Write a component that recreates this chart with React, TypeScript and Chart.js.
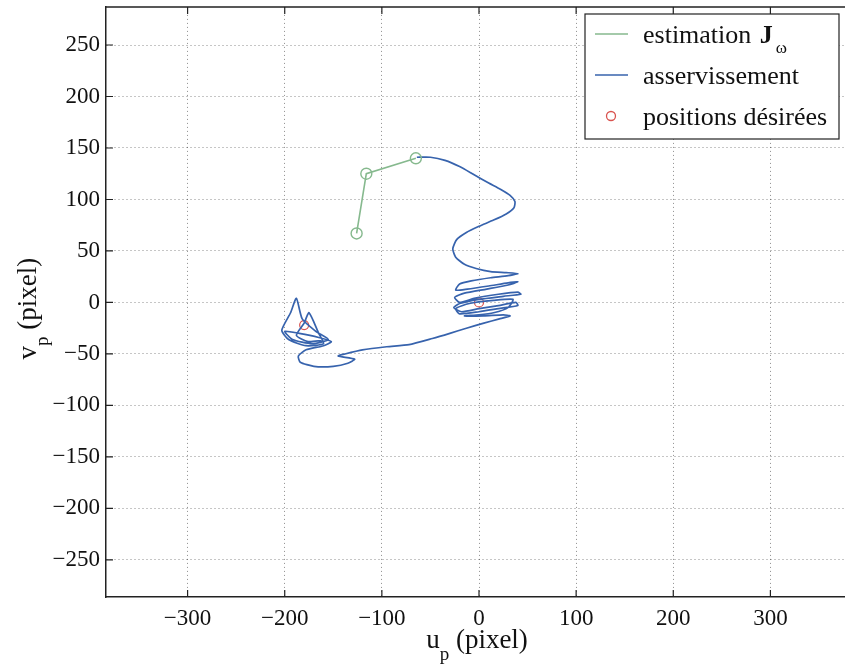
import React, { useEffect, useRef } from "react";
import { Chart, registerables } from "chart.js";

Chart.register(...registerables);

// ---- data ----
const xTicks = [-300, -200, -100, 0, 100, 200, 300];
const yTicks = [-250, -200, -150, -100, -50, 0, 50, 100, 150, 200, 250];
const xRange = [-384, 384];
const yRange = [-286, 287];

const seriesLabels = ["estimation ", "asservissement", "positions désirées"];
const xTitle = ["u", "p", " (pixel)"];
const yTitle = ["v", "p", " (pixel)"];

const estimationU = [-126, -116, -65];
const estimationV = [67, 125, 140];

const desiredU = [0, -180];
const desiredV = [0, -22];

const servoU = [
  -64, -50, -35, -20, -5, 10, 22, 32, 37, 36, 28, 15, 0, -13, -23, -27, -24, -15, -3, 12, 28, 40,
  30, 12, -8, -20,
  -24, -12, 10, 30, 40, 30, 8, -15, -25, -20, -5, 20, 40, 43, 25, 0, -20, -26, -18, 0, 20, 38, 40,
  20, 0, -20, -24, -10, 15, 35, 30, 15, 0, -15, 5, 25, 32,
  21, 5, -13, -30, -48, -72, -95, -120, -138, -145, -128, -135, -150, -170, -184, -186,
  -178, -160, -152, -165, -185, -200, -192, -172, -155, -168, -182, -188, -194, -203, -196, -178,
  -160, -165, -175, -180, -188, -176, -162,
];
const servoV = [
  141, 141, 138, 132, 124, 116, 110, 104, 98, 92, 86, 80, 74, 68, 61, 52, 44, 37, 33, 30, 29, 28,
  26, 24, 21, 18,
  12, 13, 16, 19, 20, 17, 13, 9, 5, 0, 4, 8, 10, 8, 6, 3, -1, -5, -9, -6, -3, 0, -3,
  -6, -9, -11, -6, -1, 2, 3, -5, -10, -12, -13, -13, -12, -13,
  -16, -20, -25, -30, -35, -41, -43, -46, -50, -52, -55, -59, -62, -62, -58, -52,
  -46, -42, -38, -34, -30, -28, -36, -40, -36, -28, -16, 4, -10, -27, -36, -42,
  -40, -30, -10, -20, -32, -38, -37,
];

const GREEN = "#86b98e";
const BLUE = "#3763ad";
const RED = "#d9534f";
const FONT = '"Liberation Serif", "Times New Roman", serif';

const toPts = (us: number[], vs: number[]) => us.map((u, i) => ({ x: u, y: vs[i] }));
const fmt = (v: number | string) => String(v).replace("-", "\u2212");

const decorPlugin = {
  id: "decor",
  afterDraw(chart: any) {
    const { ctx, chartArea } = chart;
    const { left, right, top, bottom } = chartArea;
    const xs = chart.scales.x;
    const ys = chart.scales.y;
    ctx.save();
    // box
    ctx.strokeStyle = "#222";
    ctx.lineWidth = 1.5;
    ctx.beginPath();
    ctx.moveTo(left, top);
    ctx.lineTo(right, top);
    ctx.lineTo(right, bottom);
    ctx.stroke();
    // inward ticks
    ctx.lineWidth = 1.2;
    ctx.beginPath();
    xTicks.forEach((t) => {
      const p = xs.getPixelForValue(t);
      ctx.moveTo(p, bottom);
      ctx.lineTo(p, bottom - 7);
      ctx.moveTo(p, top);
      ctx.lineTo(p, top + 7);
    });
    yTicks.forEach((t) => {
      const p = ys.getPixelForValue(t);
      ctx.moveTo(left, p);
      ctx.lineTo(left + 7, p);
      ctx.moveTo(right, p);
      ctx.lineTo(right - 7, p);
    });
    ctx.stroke();

    // axis titles
    ctx.fillStyle = "#111";
    ctx.textBaseline = "alphabetic";
    const big = `27px ${FONT}`;
    const small = `19px ${FONT}`;
    const drawSub = (parts: string[], x0: number, y0: number) => {
      ctx.font = big;
      const w0 = ctx.measureText(parts[0]).width;
      ctx.font = small;
      const w1 = ctx.measureText(parts[1]).width;
      ctx.font = big;
      const w2 = ctx.measureText(parts[2]).width;
      let x = x0 - (w0 + w1 + w2) / 2;
      ctx.font = big;
      ctx.fillText(parts[0], x, y0);
      x += w0;
      ctx.font = small;
      ctx.fillText(parts[1], x, y0 + 12);
      x += w1;
      ctx.font = big;
      ctx.fillText(parts[2], x, y0);
    };
    drawSub(xTitle, xs.getPixelForValue(0) - 2, 648);
    ctx.save();
    ctx.translate(36, ys.getPixelForValue(-6));
    ctx.rotate(-Math.PI / 2);
    drawSub(yTitle, 0, 0);
    ctx.restore();

    // legend
    const bx = 585, by = 14, bw = 254, bh = 125;
    ctx.fillStyle = "#fff";
    ctx.fillRect(bx, by, bw, bh);
    ctx.strokeStyle = "#222";
    ctx.lineWidth = 1.2;
    ctx.strokeRect(bx, by, bw, bh);
    const tx = 643;
    const rows = [43, 84, 125];
    const lf = `26px ${FONT}`;
    // row 1
    ctx.strokeStyle = GREEN;
    ctx.lineWidth = 1.5;
    ctx.beginPath();
    ctx.moveTo(595, rows[0] - 9);
    ctx.lineTo(628, rows[0] - 9);
    ctx.stroke();
    ctx.fillStyle = "#111";
    ctx.font = lf;
    ctx.fillText(seriesLabels[0], tx, rows[0]);
    let x = tx + ctx.measureText(seriesLabels[0]).width + 2;
    ctx.font = `bold 26px ${FONT}`;
    ctx.fillText("J", x, rows[0]);
    x += ctx.measureText("J").width + 3;
    ctx.font = `17px ${FONT}`;
    ctx.fillText("\u03c9", x, rows[0] + 10);
    // row 2
    ctx.strokeStyle = BLUE;
    ctx.beginPath();
    ctx.moveTo(595, rows[1] - 9);
    ctx.lineTo(628, rows[1] - 9);
    ctx.stroke();
    ctx.font = lf;
    ctx.fillText(seriesLabels[1], tx, rows[1]);
    // row 3
    ctx.strokeStyle = RED;
    ctx.lineWidth = 1.3;
    ctx.beginPath();
    ctx.arc(611, rows[2] - 9, 4.5, 0, Math.PI * 2);
    ctx.stroke();
    ctx.fillText(seriesLabels[2], tx, rows[2]);
    ctx.restore();
  },
};

export default function App() {
  const ref = useRef<HTMLCanvasElement>(null);
  useEffect(() => {
    const canvas = ref.current;
    if (!canvas) return;
    const chart = new Chart(canvas, {
      type: "scatter",
      data: {
        datasets: [
          {
            label: "estimation J\u03c9",
            data: toPts(estimationU, estimationV),
            showLine: true,
            borderColor: GREEN,
            borderWidth: 1.6,
            pointRadius: 5.5,
            pointBorderColor: GREEN,
            pointBackgroundColor: "rgba(0,0,0,0)",
            pointBorderWidth: 1.4,
          },
          {
            label: seriesLabels[1],
            data: toPts(servoU, servoV),
            showLine: true,
            borderColor: BLUE,
            borderWidth: 1.7,
            pointRadius: 0,
            tension: 0.2,
          },
          {
            label: seriesLabels[2],
            data: toPts(desiredU, desiredV),
            showLine: false,
            pointRadius: 4.5,
            pointBorderColor: RED,
            pointBackgroundColor: "rgba(0,0,0,0)",
            pointBorderWidth: 1.2,
          },
        ],
      },
      options: {
        responsive: false,
        animation: false,
        devicePixelRatio: 1,
        layout: { padding: { left: 0, right: 8, top: 5, bottom: 0 } },
        plugins: { legend: { display: false }, tooltip: { enabled: false } },
        scales: {
          x: {
            type: "linear",
            min: xRange[0],
            max: xRange[1],
            afterBuildTicks: (s: any) => {
              s.ticks = xTicks.map((v) => ({ value: v }));
            },
            afterFit: (s: any) => {
              s.height = 74;
              s.paddingLeft = 0;
              s.paddingRight = 0;
            },
            grid: { color: "rgba(0,0,0,0.45)", lineWidth: 1, drawTicks: false },
            border: { display: true, color: "#222", width: 1.5, dash: [1, 3] },
            ticks: {
              autoSkip: false,
              maxRotation: 0,
              padding: 8,
              color: "#111",
              font: { family: FONT, size: 23 },
              callback: (v: any) => fmt(v),
            },
          },
          y: {
            type: "linear",
            min: yRange[0],
            max: yRange[1],
            afterBuildTicks: (s: any) => {
              s.ticks = yTicks.map((v) => ({ value: v }));
            },
            afterFit: (s: any) => {
              s.width = 106;
              s.paddingTop = 0;
              s.paddingBottom = 0;
            },
            grid: { color: "rgba(0,0,0,0.45)", lineWidth: 1, drawTicks: false },
            border: { display: true, color: "#222", width: 1.5, dash: [1, 3] },
            ticks: {
              autoSkip: false,
              padding: 6,
              color: "#111",
              font: { family: FONT, size: 23 },
              callback: (v: any) => fmt(v),
            },
          },
        },
      },
      plugins: [decorPlugin],
    } as any);
    return () => chart.destroy();
  }, []);
  return (
    <div
      style={{
        position: "absolute",
        left: 0,
        top: 0,
        width: 845,
        height: 671,
        overflow: "hidden",
        background: "#fff",
      }}
    >
      <canvas ref={ref} width={860} height={671} style={{ display: "block" }} />
    </div>
  );
}
